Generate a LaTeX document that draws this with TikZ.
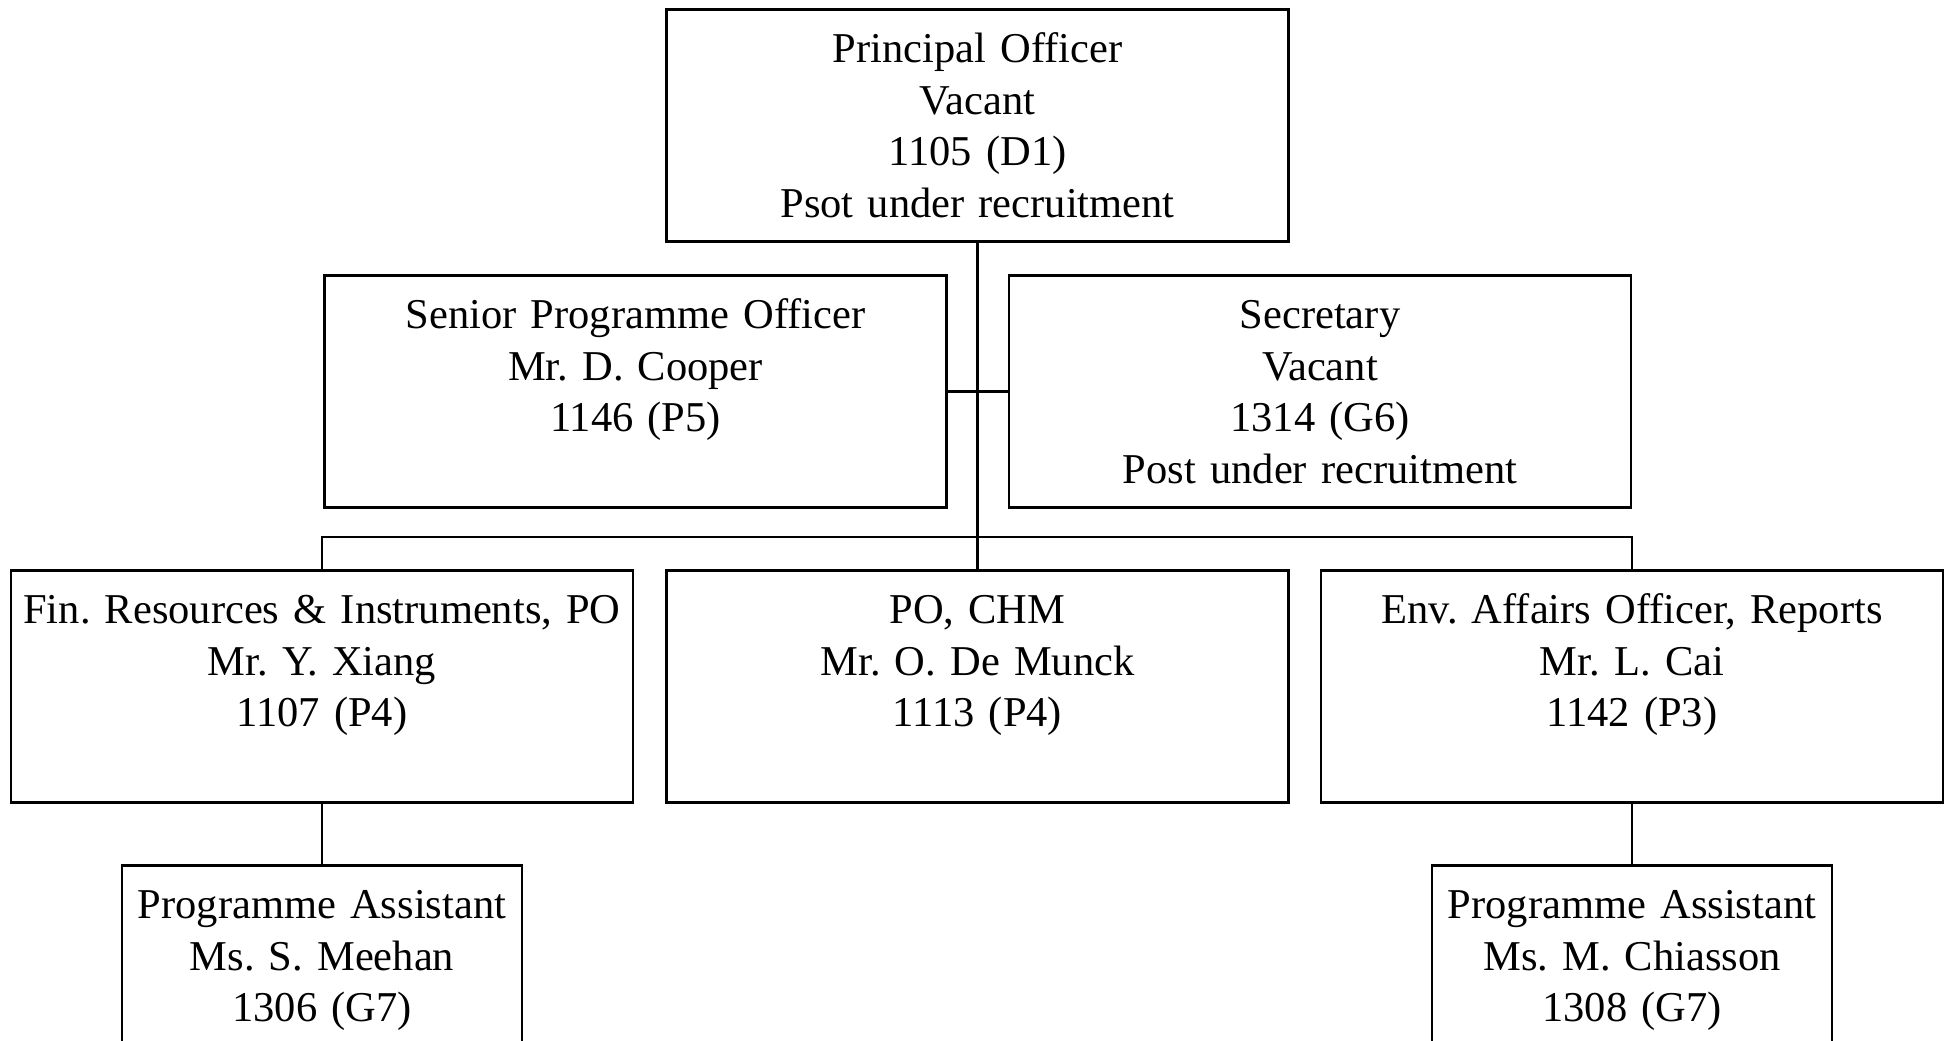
\documentclass[tikz,border=0pt]{standalone}
\usepackage{fontspec}
\setmainfont{Liberation Serif}
\frenchspacing
\begin{document}
\begin{tikzpicture}[x=1pt, y=-1pt,
    post/.style={draw, line width=2.8pt, align=center, text width=622pt,
        inner xsep=0pt, inner ysep=17pt, text height=36pt, text depth=162pt,
        anchor=north, font=\fontsize{42.5}{51.7}\selectfont},
    assist/.style={post, text width=400pt},
    link/.style={line width=2.4pt}]
    \clip (0, 0) rectangle (1951, 1041);

    \node[post] (principal) at (977.5, 8) {Principal Officer\\Vacant\\1105 (D1)\\Psot under recruitment};

    \node[post] (senior) at (635.5, 274) {Senior Programme Officer\\Mr. D. Cooper\\1146 (P5)};
    \node[post] (secretary) at (1320, 274) {Secretary\\Vacant\\1314 (G6)\\Post under recruitment};

    \node[post] (fin) at (322, 569) {Fin. Resources \& Instruments, PO\\Mr. Y. Xiang\\1107 (P4)};
    \node[post] (chm) at (977.5, 569) {PO, CHM\\Mr. O. De Munck\\1113 (P4)};
    \node[post] (env) at (1632, 569) {Env. Affairs Officer, Reports\\Mr. L. Cai\\1142 (P3)};

    \node[assist] (finpa) at (322, 864) {Programme Assistant\\Ms. S. Meehan\\1306 (G7)};
    \node[assist] (envpa) at (1632, 864) {Programme Assistant\\Ms. M. Chiasson\\1308 (G7)};

    % Draw the lines between posts
    \coordinate (bar) at (977.5, 537);
    \draw[link] (principal) -- (chm);
    \draw[link] (senior) -- (secretary);
    \draw[link] (fin) |- (bar) -| (env);
    \draw[link] (fin) -- (finpa);
    \draw[link] (env) -- (envpa);
\end{tikzpicture}
\end{document}
